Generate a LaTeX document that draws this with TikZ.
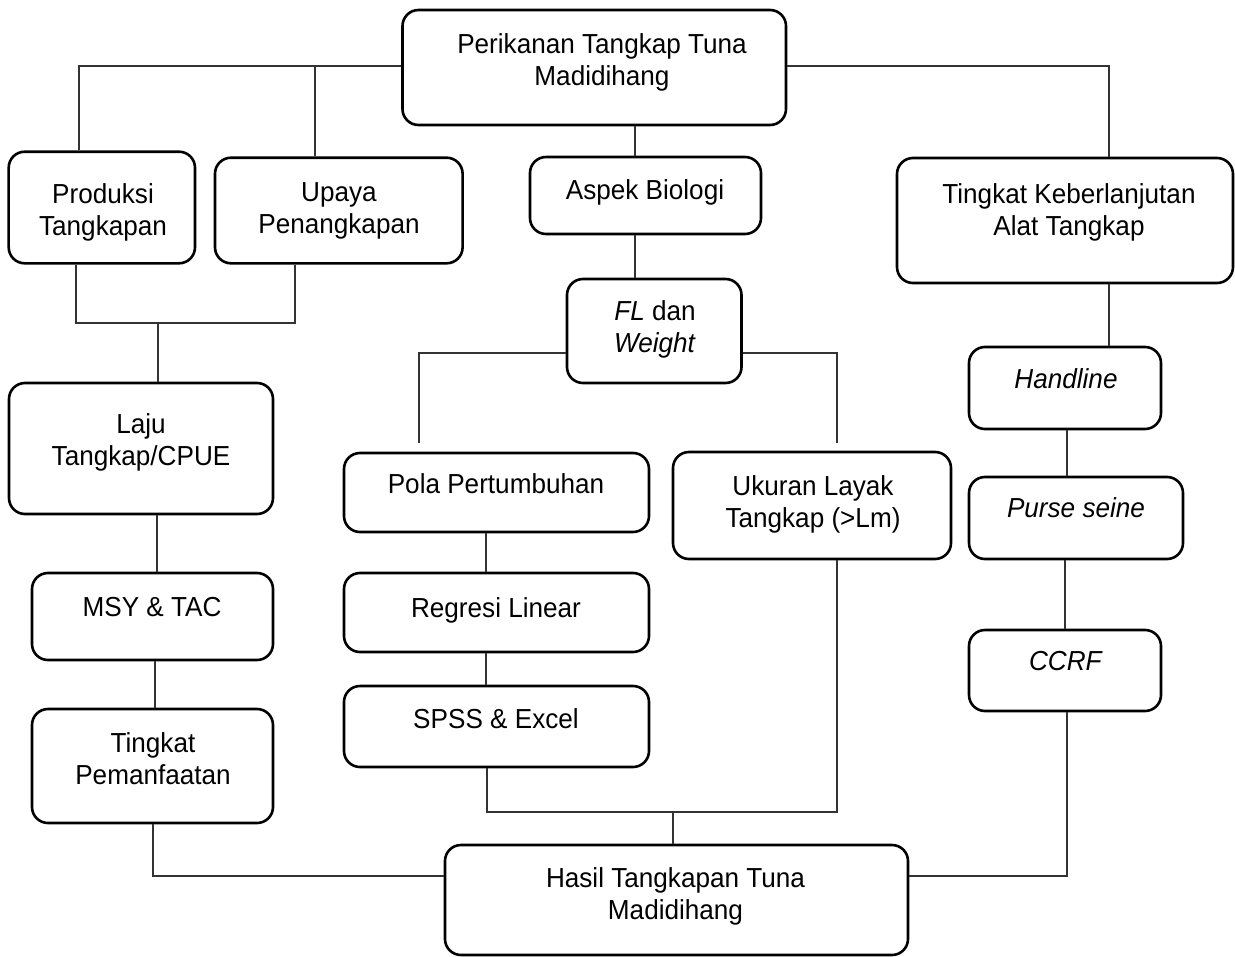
\documentclass[tikz,border=0pt]{standalone}
\usepackage{fontspec}
\setmainfont[FakeStretch=0.95]{Liberation Sans}
\newcommand{\mybox}[5]{%
  \pgfmathsetmacro{\myCx}{(#2+#3)/2}%
  \pgfmathsetmacro{\myCy}{(#4+#5)/2}%
  \pgfmathsetmacro{\myBw}{#3-#2}%
  \pgfmathsetmacro{\myBh}{#5-#4}%
  \node[box, minimum width=\myBw bp, minimum height=\myBh bp] (#1) at (\myCx,\myCy) {};}
\newcommand{\mytl}[1]{\begin{tabular}[t]{@{}c@{}}#1\end{tabular}}
\tikzset{
  box/.style={draw=black, line width=2.6bp, rounded corners=16bp, inner sep=0pt, shape=rectangle},
  txt/.style={anchor=base, inner sep=0pt, font=\fontsize{27.6}{33}\selectfont},
  conn/.style={draw=black!80, line width=1.3bp},
}
\begin{document}
\begin{tikzpicture}[x=1bp,y=-1bp]
\useasboundingbox (0,0) rectangle (1235,957);
% boxes
\mybox{top}{402.5}{786}{10}{125}
\mybox{prod}{8.7}{195}{151.7}{263.3}
\mybox{upaya}{215}{462.6}{157.7}{263.3}
\mybox{aspek}{530}{761}{157}{234}
\mybox{tk}{897}{1233}{158}{283}
\mybox{fl}{567}{741.5}{279}{383}
\mybox{laju}{9}{273}{383}{514}
\mybox{msy}{32}{273}{573}{660}
\mybox{tpem}{32}{273}{709}{823}
\mybox{pola}{344}{649}{453}{532}
\mybox{regresi}{344}{649}{573}{652}
\mybox{spss}{344}{649}{686}{767}
\mybox{ukuran}{673}{951}{452}{559}
\mybox{handline}{969}{1161}{347}{429}
\mybox{purse}{969}{1183}{477}{559}
\mybox{ccrf}{969}{1161}{630}{711}
\mybox{hasil}{445}{908}{845}{955}
% texts
\node[txt] (ttop) at (602,53) {\mytl{Perikanan Tangkap Tuna\\Madidihang}};
\node[txt] (tprod) at (103,203) {\mytl{Produksi\\Tangkapan}};
\node[txt] (tupaya) at (339,201) {\mytl{Upaya\\Penangkapan}};
\node[txt] (taspek) at (645,199) {Aspek Biologi};
\node[txt] (ttk) at (1069,203) {\mytl{Tingkat Keberlanjutan\\Alat Tangkap}};
\node[txt] (tfl) at (655,320) {\mytl{\textit{FL} dan\\\textit{Weight}}};
\node[txt] (tlaju) at (141,433) {\mytl{Laju\\Tangkap/CPUE}};
\node[txt] (tmsy) at (152,616) {MSY \& TAC};
\node[txt] (ttpem) at (153,752) {\mytl{Tingkat\\Pemanfaatan}};
\node[txt] (tpola) at (496,493) {Pola Pertumbuhan};
\node[txt] (tregresi) at (496,617) {Regresi Linear};
\node[txt] (tspss) at (496,728) {SPSS \& Excel};
\node[txt] (tukuran) at (813,495) {\mytl{Ukuran Layak\\Tangkap (>Lm)}};
\node[txt] (thandline) at (1066,388) {\textit{Handline}};
\node[txt] (tpurse) at (1076,517) {\textit{Purse seine}};
\node[txt] (tccrf) at (1066,670) {\textit{CCRF}};
\node[txt] (thasil) at (675.5,887) {\mytl{Hasil Tangkapan Tuna\\Madidihang}};
% junction coordinates
\coordinate (jA) at (315,66);
\coordinate (jC) at (295,323);
\coordinate (jD) at (158,323);
\coordinate (jE) at (419,443);
\coordinate (jF) at (837,443);
\coordinate (jG) at (837,812);
\coordinate (jH) at (673,812);
% connectors
\draw[conn] (top.west |- 0,66) -| (prod.north -| 79,0);
\draw[conn] (jA) -- (upaya.north -| jA);
\draw[conn] (top.east |- 0,66) -| (tk.north -| 1109,0);
\draw[conn] (top.south -| 635,0) -- (aspek.north -| 635,0);
\draw[conn] (aspek.south -| 635,0) -- (fl.north -| 635,0);
\draw[conn] (prod.south -| 76,0) |- (jC) -- (upaya.south -| jC);
\draw[conn] (jD) -- (laju.north -| jD);
\draw[conn] (laju.south -| 157,0) -- (msy.north -| 157,0);
\draw[conn] (msy.south -| 155,0) -- (tpem.north -| 155,0);
\draw[conn] (tpem.south -| 153,0) |- (hasil.west |- 0,876);
\draw[conn] (fl.west |- 0,353) -| (jE);
\draw[conn] (fl.east |- 0,353) -| (jF);
\draw[conn] (pola.south -| 486,0) -- (regresi.north -| 486,0);
\draw[conn] (regresi.south -| 486,0) -- (spss.north -| 486,0);
\draw[conn] (spss.south -| 487,0) |- (jG) -- (ukuran.south -| jG);
\draw[conn] (jH) -- (hasil.north -| jH);
\draw[conn] (ccrf.south -| 1067,0) |- (hasil.east |- 0,876);
\draw[conn] (tk.south -| 1109,0) -- (handline.north -| 1109,0);
\draw[conn] (handline.south -| 1067,0) -- (purse.north -| 1067,0);
\draw[conn] (purse.south -| 1065,0) -- (ccrf.north -| 1065,0);
\end{tikzpicture}
\end{document}
